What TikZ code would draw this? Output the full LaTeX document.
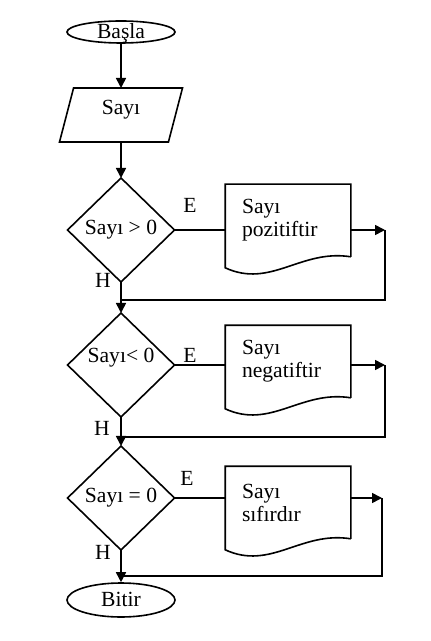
\documentclass[tikz,border=0pt]{standalone}
\usepackage{fontspec}
\setmainfont{Liberation Serif}
\usetikzlibrary{%
    arrows.meta,
    calc,
    positioning,
    shapes.geometric
}

\begin{document}
\begin{tikzpicture}[x=0.5pt, y=-0.5pt, line width=0.8pt,
    font=\fontsize{10.8}{11.5}\selectfont,
    terminal/.style={ellipse, draw, inner sep=0pt, minimum width=54pt,
                     text height=1.4ex, text depth=0pt},
    inbox/.style={trapezium, draw, trapezium left angle=66, trapezium right angle=114,
                  trapezium stretches body, minimum width=61.5pt, minimum height=27pt,
                  inner sep=0pt, outer sep=0pt},
    decision/.style={diamond, draw, inner sep=0pt, outer sep=0pt,
                     minimum width=53.5pt, minimum height=52pt},
    docbox/.style={rectangle, minimum width=62pt, minimum height=35.5pt,
                   inner xsep=8pt, inner ysep=0pt, text width=46pt, align=left},
    arr/.style={-{Triangle[length=5pt, width=5pt]}}]
    \useasboundingbox (0,0) rectangle (430,641);

    \node (basla) [terminal, minimum height=11pt] at (121,32) {Başla};
    \node (sayi) [inbox, text height=7.5pt, text depth=8.3pt] at (121,115) {Sayı};

    \node (d1) [decision] at (121,230) {Sayı > 0};
    \node (d2) [decision, text height=7.5pt, text depth=10pt] at (121,365) {Sayı< 0};
    \node (d3) [decision] at (121,498) {Sayı = 0};

    \node (p1) [docbox] at (288,220.5) {Sayı\\pozitiftir};
    \node (p2) [docbox] at (288,361.5) {Sayı\\negatiftir};
    \node (p3) [docbox] at (288,502.5) {Sayı\\sıfırdır};

    \node (bitir) [terminal, minimum height=17pt] at (121,600) {Bitir};

    \node (e1) at (190,205) {E};
    \node (e2) at (190,355) {E};
    \node (e3) at (187,478) {E};
    \node (h1) at (103,280) {H};
    \node (h2) at (102,428) {H};
    \node (h3) at (103,552) {H};

    \coordinate (r1) at (385,230);
    \coordinate (r2) at (385,365);
    \coordinate (r3) at (382,498);
    \coordinate (j1) at (121,300);
    \coordinate (j2) at (121,437);
    \coordinate (j3) at (121,576);

    \foreach \p in {p1,p2,p3}
        \draw (\p.south east) -- (\p.north east) -- (\p.north west)
              -- ($(\p.south west)+(0,11)$)
              .. controls ($(\p.south east)+(-80,32)$) and ($(\p.south east)+(-50,-8)$)
              .. (\p.south east);

    \foreach \Source/\Target in {%
        basla/sayi,
        sayi/d1,
        d1/d2,
        d2/d3,
        d3/bitir%
    }
    \draw[arr] (\Source) to (\Target);

    \foreach \Column in {1,2,3}
        {
            \draw (d\Column.east) -- (d\Column.east -| p\Column.west);
            \draw[arr] (r\Column -| p\Column.east) -- (r\Column);
            \draw (r\Column) |- (j\Column);
        }
\end{tikzpicture}
\end{document}
